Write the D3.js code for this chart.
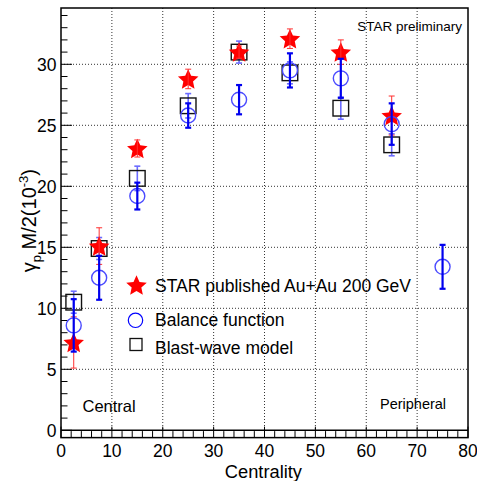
<!DOCTYPE html>
<html><head><meta charset="utf-8">
<script src="https://cdn.jsdelivr.net/npm/d3@7"></script>
<style>
body{margin:0;background:#fff;}
text{font-family:"Liberation Sans",Arial,sans-serif;fill:#000;}
</style></head>
<body><svg id="c" width="477" height="481"></svg>
<script>
const centrality = [2.5, 7.5, 15, 25, 35, 45, 55, 65, 75];
const starVals = [7.2, 15.1, 23.1, 28.8, 31.0, 32.1, 31.0, 25.8];
const starErr  = [2.1, 1.5, 0.7, 0.8, 0.5, 0.8, 1.0, 1.6];
const bfVals = [8.6, 12.5, 19.2, 25.8, 27.1, 29.5, 28.85, 25.1, 13.4];
const bfErr  = [2.15, 1.8, 1.1, 1.0, 1.2, 1.4, 1.6, 1.7, 1.8];
const bwVals = [10.5, 14.9, 20.65, 26.6, 31.0, 29.3, 26.4, 23.4];
const bwErr  = [0.9, 0.9, 1.0, 1.0, 0.9, 0.9, 0.9, 0.9];
const xTicks = [0, 10, 20, 30, 40, 50, 60, 70, 80];
const yTicks = [0, 5, 10, 15, 20, 25, 30];
const legendLabels = ["STAR published Au+Au 200 GeV", "Balance function", "Blast-wave model"];

const svg = d3.select("#c");
const L = 61, R = 468, T = 8;
const x = d3.scaleLinear().domain([0, 80]).range([L, R]);
const y = d3.scaleLinear().domain([0, 30]).range([430.3, 64.3]);
const yMin = -0.6;
const B = y(yMin);

// grid
const g = svg.append("g");
g.selectAll(".vg").data(xTicks.filter(d => d > 0 && d < 80)).enter().append("line")
  .attr("x1", d => x(d)).attr("x2", d => x(d)).attr("y1", T).attr("y2", y(0))
  .attr("stroke", "#333").attr("stroke-dasharray", "1,2").attr("stroke-width", 1);
g.selectAll(".hg").data(yTicks.filter(d => d > 0)).enter().append("line")
  .attr("x1", L).attr("x2", R).attr("y1", d => y(d)).attr("y2", d => y(d))
  .attr("stroke", "#333").attr("stroke-dasharray", "1,2").attr("stroke-width", 1);

// frame
svg.append("rect").attr("x", L).attr("y", T).attr("width", R - L).attr("height", B - T)
  .attr("fill", "none").attr("stroke", "#000").attr("stroke-width", 1.5);
svg.append("line").attr("x1", L).attr("x2", R).attr("y1", y(0)).attr("y2", y(0))
  .attr("stroke", "#000").attr("stroke-width", 1.5);

// x ticks (up from bottom)
const xMinor = d3.range(0, 81, 2);
svg.selectAll(".xt").data(xMinor).enter().append("line")
  .attr("x1", d => x(d)).attr("x2", d => x(d))
  .attr("y1", B).attr("y2", d => d % 10 === 0 ? B - 11 : B - 6.5)
  .attr("stroke", "#000").attr("stroke-width", 1);
svg.selectAll(".xl").data(xTicks).enter().append("text")
  .attr("x", d => x(d)).attr("y", 457).attr("text-anchor", "middle")
  .attr("font-size", 17.5).text(d => d);

// y ticks (right from left axis)
const yMinor = d3.range(0, 35, 1);
svg.selectAll(".yt").data(yMinor).enter().append("line")
  .attr("x1", L).attr("x2", d => d % 5 === 0 ? L + 11 : L + 6.5)
  .attr("y1", d => y(d)).attr("y2", d => y(d))
  .attr("stroke", "#000").attr("stroke-width", 1);
svg.selectAll(".yl").data(yTicks).enter().append("text")
  .attr("x", 56.5).attr("y", d => y(d) + 6.3).attr("text-anchor", "end")
  .attr("font-size", 17.5).text(d => d);

// axis titles
svg.append("text").attr("x", 302).attr("y", 477.5).attr("text-anchor", "end")
  .attr("font-size", 18.3).text("Centrality");
const yt = svg.append("text").attr("transform", "translate(36,169) rotate(-90)")
  .attr("text-anchor", "end").attr("font-size", 20);
yt.append("tspan").text("γ");
yt.append("tspan").attr("font-size", 13).attr("dy", 5).text("p");
yt.append("tspan").attr("dy", -5).text(" M/2(10");
yt.append("tspan").attr("font-size", 13).attr("dy", -8).text("-3");
yt.append("tspan").attr("dy", 8).text(")");

// annotations
svg.append("text").attr("x", 462).attr("y", 31).attr("text-anchor", "end").attr("font-size", 13.5).text("STAR preliminary");
svg.append("text").attr("x", 82.5).attr("y", 411.5).attr("font-size", 16.5).text("Central");
svg.append("text").attr("x", 380).attr("y", 408.5).attr("font-size", 14.5).text("Peripheral");

// ROOT-like 5-point star (chunky inner radius)
function starPath(Ro) {
  const Ri = Ro * 0.47;
  const pts = d3.range(10).map(k => {
    const a = -Math.PI / 2 + k * Math.PI / 5;
    const r = k % 2 === 0 ? Ro : Ri;
    return [r * Math.cos(a), r * Math.sin(a)];
  });
  return d3.line()(pts) + "Z";
}
const cap = 3;
function errbar(sel, xs, vals, errs, color, w) {
  const d = vals.map((v, i) => ({cx: xs[i], v, e: errs[i]}));
  const gg = sel.append("g").attr("stroke", color).attr("stroke-width", w);
  gg.selectAll("line.v").data(d).enter().append("line")
    .attr("x1", d => x(d.cx)).attr("x2", d => x(d.cx))
    .attr("y1", d => y(d.v - d.e)).attr("y2", d => y(d.v + d.e));
  [-1, 1].forEach(s => {
    gg.selectAll("line.c" + s).data(d).enter().append("line")
      .attr("x1", d => x(d.cx) - cap).attr("x2", d => x(d.cx) + cap)
      .attr("y1", d => y(d.v + s * d.e)).attr("y2", d => y(d.v + s * d.e));
  });
}

// blast-wave squares
const bw = svg.append("g");
errbar(bw, centrality, bwVals, bwErr, "#6b6bff", 1.6);
bw.selectAll("rect").data(bwVals).enter().append("rect")
  .attr("x", (d, i) => x(centrality[i]) - 7.8).attr("y", d => y(d) - 7.8)
  .attr("width", 15.6).attr("height", 15.6)
  .attr("fill", "none").attr("stroke", "#111").attr("stroke-width", 1.4);

// STAR stars
const st = svg.append("g");
st.selectAll("path").data(starVals).enter().append("path")
  .attr("d", starPath(10.8))
  .attr("transform", (d, i) => `translate(${x(centrality[i])},${y(d) + 1})`)
  .attr("fill", "#ff0000");

// balance function circles
const bf = svg.append("g");
bf.selectAll("circle").data(bfVals).enter().append("circle")
  .attr("cx", (d, i) => x(centrality[i])).attr("cy", d => y(d)).attr("r", 7.5)
  .attr("fill", "none").attr("stroke", "#4a4aff").attr("stroke-width", 1.4);
errbar(bf, centrality, bfVals, bfErr, "#0000ee", 2.2);
// red star error bars on top
errbar(st, centrality, starVals, starErr, "#ff3030", 1);

// legend
const lg = svg.append("g");
lg.append("path").attr("d", starPath(10.8)).attr("transform", "translate(136.5,286)").attr("fill", "#ff0000");
lg.append("circle").attr("cx", 135.5).attr("cy", 320.3).attr("r", 7.2).attr("fill", "none").attr("stroke", "#0000ff").attr("stroke-width", 1.2);
lg.append("rect").attr("x", 130).attr("y", 338.5).attr("width", 12).attr("height", 12).attr("fill", "none").attr("stroke", "#111").attr("stroke-width", 1.3);
lg.selectAll("text").data(legendLabels).enter().append("text")
  .attr("x", 155).attr("y", (d, i) => [291.7, 325.5, 353.5][i]).attr("font-size", 17.5).text(d => d);
</script></body></html>
